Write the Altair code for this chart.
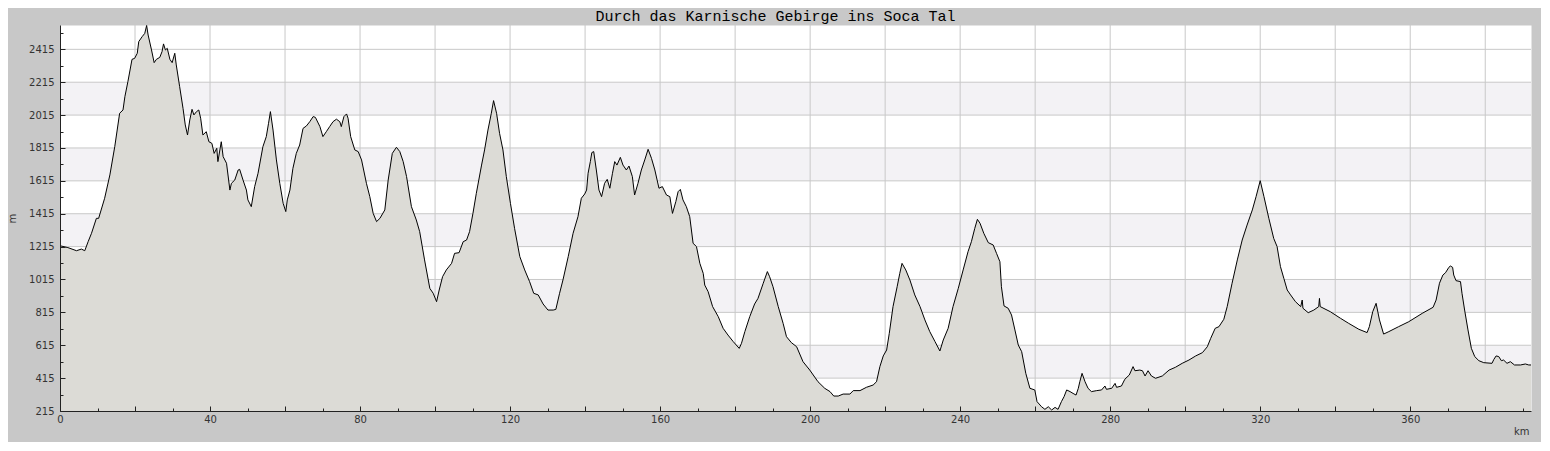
import altair as alt
import pandas as pd

TITLE = "Durch das Karnische Gebirge ins Soca Tal"

km = [0.0, 0.2, 2.1, 4.4, 5.7, 6.6, 7.5, 8.4, 9.7, 10.3, 11.9, 13.3, 14.6, 15.9, 16.8, 17.3, 18.1, 19.2, 19.9,
      20.6, 21.0, 21.9, 22.6, 23.1, 23.5, 24.4, 25.1, 25.7, 26.6, 27.2, 27.6, 28.1, 28.6, 29.3, 29.9, 30.6, 31.0,
      31.9, 32.8, 33.4, 34.0, 34.6, 35.2, 35.7, 36.4, 37.0, 37.5, 38.1, 39.0, 39.7, 40.5, 41.1, 41.8, 42.1, 43.0,
      43.5, 44.4, 45.3, 45.7, 46.6, 47.5, 47.9, 48.8, 49.7, 50.1, 51.0, 51.9, 52.8, 54.1, 55.0, 55.6, 56.1, 56.8,
      57.7, 58.6, 59.5, 60.2, 60.6, 61.3, 62.1, 63.0, 63.9, 64.8, 65.7, 66.6, 67.5, 68.1, 69.3, 70.1, 71.0, 71.9,
      72.8, 73.7, 74.6, 75.0, 75.7, 76.4, 76.8, 77.5, 78.6, 79.5, 80.4, 81.7, 82.6, 83.5, 84.4, 85.3, 86.6, 87.5,
      88.6, 89.7, 90.6, 91.5, 92.4, 93.7, 95.0, 95.9, 97.2, 98.6, 99.5, 100.4, 101.1, 102.0, 103.0, 104.4, 105.2,
      106.4, 107.5, 108.4, 109.2, 110.1, 111.0, 112.4, 113.2, 114.1, 115.0, 115.6, 116.4, 117.2, 118.1, 119.0,
      120.1, 121.2, 122.6, 123.9, 125.2, 126.3, 127.5, 128.8, 130.1, 131.5, 132.2, 133.2, 134.1, 135.5, 136.8,
      138.1, 139.0, 139.9, 140.4, 140.8, 141.4, 141.8, 142.3, 143.0, 143.7, 144.4, 145.2, 145.9, 146.6, 147.3,
      147.9, 148.5, 149.4, 150.1, 151.0, 151.7, 152.6, 153.2, 154.1, 155.0, 155.9, 156.8, 157.7, 158.6, 159.7,
      160.6, 161.7, 162.6, 163.3, 164.2, 164.8, 165.4, 166.1, 167.0, 167.9, 168.8, 169.7, 170.6, 171.5, 171.9,
      172.8, 174.0, 175.5, 176.8, 178.1, 179.5, 181.1, 181.7, 182.6, 183.9, 185.2, 186.1, 187.5, 188.6, 189.2,
      190.1, 191.5, 192.8, 193.7, 195.0, 196.4, 198.1, 199.9, 202.1, 203.9, 205.3, 206.3, 207.5, 208.8, 210.6,
      211.5, 213.3, 215.0, 216.8, 217.7, 218.6, 219.5, 220.4, 221.1, 222.1, 223.2, 223.9, 224.5, 225.5, 226.6,
      227.9, 229.3, 230.6, 231.9, 233.3, 234.6, 235.5, 236.8, 238.1, 239.5, 240.8, 242.1, 243.0, 243.9, 244.6,
      245.3, 246.3, 247.5, 248.8, 249.7, 250.6, 251.0, 251.7, 252.8, 253.7, 254.6, 255.5, 256.4, 257.5, 258.6,
      259.9, 260.5, 261.7, 262.6, 263.5, 264.4, 265.3, 266.1, 267.0, 267.7, 268.4, 269.3, 270.1, 270.9, 271.5,
      271.9, 272.5, 273.3, 274.1, 275.0, 276.4, 277.7, 278.6, 279.0, 280.4, 281.3, 281.7, 283.0, 283.9, 285.1,
      286.1, 286.6, 287.9, 288.6, 289.3, 290.1, 291.0, 292.1, 293.9, 295.7, 297.4, 299.2, 301.0, 302.8, 304.6,
      305.9, 306.8, 308.0, 309.0, 310.3, 311.2, 312.5, 313.9, 315.2, 316.5, 317.9, 318.9, 320.0, 321.0, 322.3,
      323.6, 324.5, 325.4, 326.3, 327.2, 328.1, 329.4, 330.8, 331.2, 331.4, 332.8, 334.3, 335.6, 335.8, 336.0,
      338.7, 341.4, 343.6, 346.3, 348.5, 349.1, 350.0, 350.9, 351.8, 352.9, 354.3, 356.9, 359.6, 363.2, 366.1,
      366.9, 367.8, 368.7, 369.4, 370.3, 370.7, 371.3, 371.6, 372.2, 373.4, 373.8, 374.5, 375.4, 376.3, 377.2,
      378.3, 379.6, 381.8, 382.3, 382.9, 383.6, 384.3, 384.9, 385.8, 386.7, 387.8, 389.4, 390.7, 391.6, 392.2]

elev = [1222, 1219, 1209, 1190, 1200, 1190, 1245, 1296, 1387, 1387, 1509, 1651, 1823, 2026, 2046, 2127, 2218, 2354, 2360,
        2391, 2462, 2492, 2512, 2560, 2502, 2411, 2334, 2354, 2366, 2401, 2448, 2411, 2421, 2354, 2334, 2391, 2320,
        2188, 2056, 1955, 1894, 1985, 2050, 2016, 2036, 2046, 1996, 1894, 1914, 1853, 1843, 1782, 1813, 1732, 1853,
        1762, 1722, 1559, 1600, 1620, 1681, 1685, 1620, 1559, 1499, 1458, 1580, 1661, 1823, 1884, 1965, 2036, 1924,
        1742, 1600, 1478, 1428, 1499, 1559, 1691, 1782, 1833, 1934, 1949, 1975, 2006, 2001, 1945, 1884, 1914, 1945,
        1975, 1990, 1975, 1945, 2006, 2022, 1996, 1884, 1803, 1793, 1742, 1600, 1519, 1417, 1367, 1387, 1438, 1620,
        1782, 1819, 1793, 1732, 1641, 1458, 1377, 1306, 1134, 961, 931, 880, 951, 1032, 1073, 1113, 1174,
        1178, 1245, 1255, 1306, 1417, 1539, 1711, 1803, 1924, 2026, 2103, 2026, 1904, 1803, 1641,
        1478, 1326, 1154, 1073, 1002, 931, 921, 866, 829, 829, 833, 931, 1012, 1154, 1296,
        1397, 1509, 1535, 1559, 1661, 1732, 1787, 1793, 1681, 1559, 1519, 1600, 1624, 1570, 1661,
        1732, 1711, 1758, 1711, 1681, 1705, 1641, 1529, 1600, 1681, 1742, 1807, 1752, 1681, 1570,
        1580, 1529, 1519, 1417, 1489, 1549, 1563, 1499, 1458, 1397, 1235, 1215, 1113, 1052, 981,
        941, 850, 789, 718, 677, 637, 596, 627, 698, 789, 866, 900, 992, 1063, 1032,
        971, 850, 748, 667, 631, 606, 515, 464, 393, 353, 333, 306, 306, 318, 318,
        339, 339, 359, 373, 393, 485, 550, 586, 687, 850, 971, 1052, 1113, 1073, 1012,
        921, 850, 769, 698, 637, 580, 647, 718, 850, 961, 1073, 1184, 1245, 1326, 1381,
        1357, 1296, 1239, 1225, 1174, 1123, 971, 854, 840, 799, 708, 616, 576, 444, 353,
        343, 272, 241, 225, 241, 221, 237, 225, 272, 302, 343, 333, 322, 312, 353,
        393, 444, 393, 353, 333, 339, 343, 367, 347, 353, 383, 359, 367, 408, 434,
        485, 460, 464, 460, 428, 460, 428, 414, 428, 464, 481, 505, 525, 550, 570,
        606, 657, 718, 728, 773, 850, 992, 1134, 1255, 1346, 1438, 1519, 1616, 1519, 1387,
        1265, 1215, 1093, 1022, 951, 921, 880, 850, 890, 840, 813, 829, 850, 900, 850,
        819, 779, 748, 712, 692, 728, 819, 870, 769, 683, 698, 728, 758, 809, 846,
        890, 992, 1042, 1056, 1089, 1097, 1089, 1042, 1008, 1002, 931, 829, 708, 596, 546,
        521, 509, 505, 529, 550, 546, 521, 525, 505, 515, 495, 495, 501, 495, 495]

x_labels = [0, 40, 80, 120, 160, 200, 240, 280, 320, 360]
x_major = [0, 20, 40, 60, 80, 100, 120, 140, 160, 180, 200, 220, 240, 260, 280, 300, 320, 340, 360, 380]
x_minor = [10, 30, 50, 70, 90, 110, 130, 150, 170, 190, 210, 230, 250, 270, 290, 310, 330, 350, 370, 390]
y_major = [215, 415, 615, 815, 1015, 1215, 1415, 1615, 1815, 2015, 2215, 2415]
y_minor = [315, 515, 715, 915, 1115, 1315, 1515, 1715, 1915, 2115, 2315, 2515]
grid_x = [20, 40, 60, 80, 100, 120, 140, 160, 180, 200, 220, 240, 260, 280, 300, 320, 340, 360, 380]
grid_y = [415, 615, 815, 1015, 1215, 1415, 1615, 1815, 2015, 2215, 2415]
band_lo = [415, 815, 1215, 1615, 2015]
band_hi = [615, 1015, 1415, 1815, 2215]
X_DOMAIN = [0, 392.2]
Y_DOMAIN = [215, 2563]

W, H = 1471, 386
FONT = "DejaVu Sans"
TXT = "#333333"
AXC = "#222222"

xs = alt.Scale(domain=X_DOMAIN, nice=False, zero=False)
ys = alt.Scale(domain=Y_DOMAIN, nice=False, zero=False)

prof = pd.DataFrame({"km": km, "elev": elev})
bands_df = pd.DataFrame({"lo": band_lo, "hi": band_hi})
gx_df = pd.DataFrame({"gx": grid_x})
gy_df = pd.DataFrame({"gy": grid_y})


def tick_axis(orient, values, size):
    return alt.Axis(orient=orient, values=values, tickSize=size, offset=-size, domain=False,
                    labels=False, title="", grid=False, tickColor=AXC, tickWidth=1, zindex=2)


main_x = alt.Axis(orient="bottom", values=x_labels, ticks=False, tickSize=0, labelPadding=3, format="d",
                  domainColor=AXC, labelFont=FONT, labelFontSize=10, labelColor=TXT, labelFlush=False,
                  title="km", titleFont=FONT, titleFontSize=10, titleFontWeight="normal", titleColor=TXT,
                  titleAnchor="end", titleAlign="right", titleX=W - 2, titleY=23,
                  titleBaseline="alphabetic", grid=False, zindex=2)
main_y = alt.Axis(orient="left", values=y_major, ticks=False, tickSize=0, labelPadding=6, format="d",
                  domainColor=AXC, labelFont=FONT, labelFontSize=10, labelColor=TXT, labelFlush=False,
                  title="m", titleFont=FONT, titleFontSize=10, titleFontWeight="normal", titleColor=TXT,
                  titleX=-45, titleY=H / 2, titleAngle=270, titleAlign="center",
                  titleBaseline="alphabetic", grid=False, zindex=2)

bands = alt.Chart(bands_df).mark_rect(color="#f3f2f5").encode(
    y=alt.Y("lo:Q", scale=ys, axis=None), y2="hi:Q", x=alt.value(0), x2=alt.value(W))

vgrid = alt.Chart(gx_df).mark_rule(color="#c8c8c8", strokeWidth=1).encode(
    x=alt.X("gx:Q", scale=xs, axis=tick_axis("bottom", x_major, 5)), y=alt.value(0), y2=alt.value(H))

hgrid = alt.Chart(gy_df).mark_rule(color="#c8c8c8", strokeWidth=1).encode(
    y=alt.Y("gy:Q", scale=ys, axis=tick_axis("left", y_major, 5)), x=alt.value(0), x2=alt.value(W))

area = alt.Chart(prof).mark_area(color="#dcdbd6", clip=True).encode(
    x=alt.X("km:Q", scale=xs, axis=main_x), y=alt.Y("elev:Q", scale=ys, axis=main_y))

line = alt.Chart(prof).mark_line(color="#000000", strokeWidth=1, clip=True).encode(
    x=alt.X("km:Q", scale=xs, axis=tick_axis("bottom", x_minor, 3)),
    y=alt.Y("elev:Q", scale=ys, axis=tick_axis("left", y_minor, 3)))

chart = alt.layer(bands, vgrid, hgrid, area, line).resolve_axis(
    x="independent", y="independent"
).properties(
    width=W, height=H,
    title=alt.TitleParams(TITLE, font="Liberation Mono", fontSize=15, fontWeight="normal", color="#000000",
                          anchor="middle", frame="group", dx=-20, dy=14, offset=3, baseline="alphabetic"),
    padding={"left": 52, "top": 17, "right": 10, "bottom": 31},
    autosize=alt.AutoSizeParams(type="none"),
    background="#c8c8c8",
).configure_view(fill="white", stroke="transparent")

chart.save("out.html", embed_options={"renderer": "svg", "actions": False})
